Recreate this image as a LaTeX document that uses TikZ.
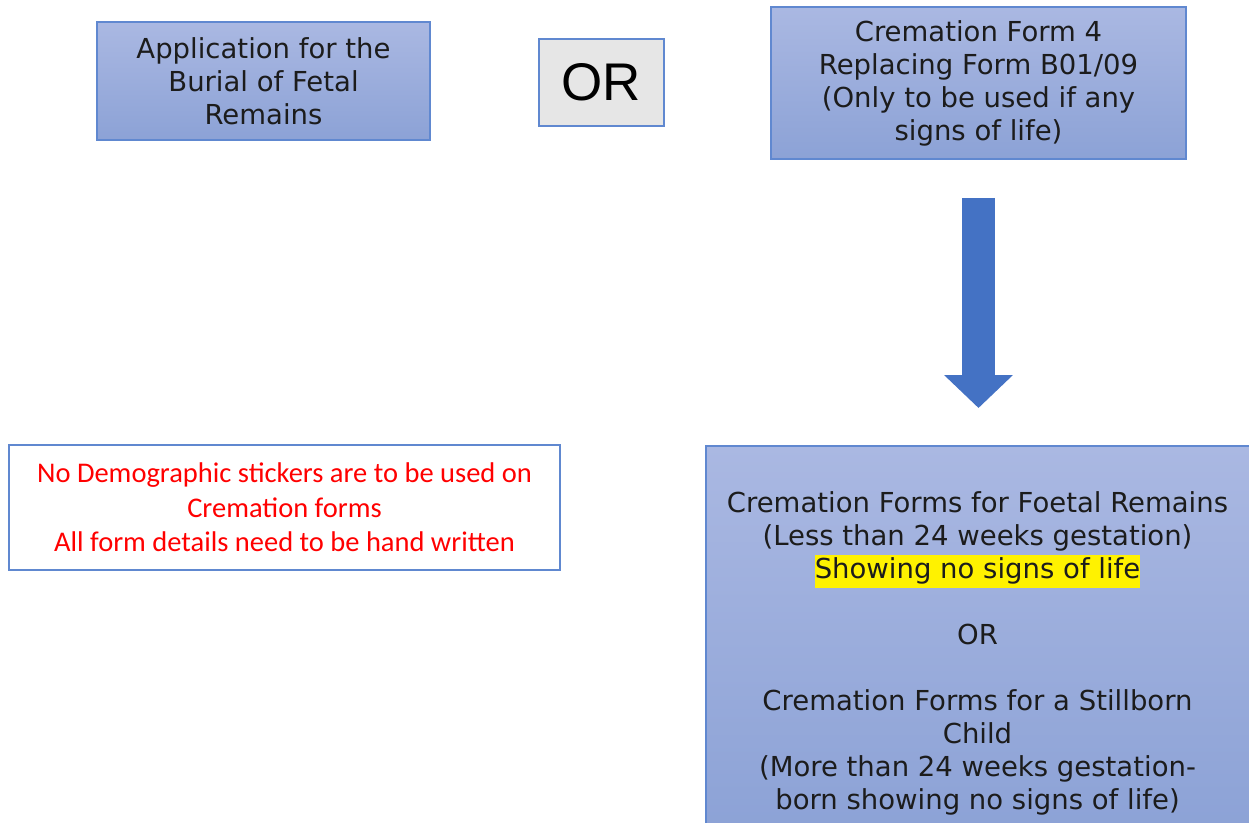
\documentclass[tikz,border=0pt]{standalone}
\usepackage{fontspec}
\usepackage{tikz}
\usetikzlibrary{arrows.meta}
\setmainfont{DejaVu Sans}
\newfontfamily\notefont{Carlito}
\newfontfamily\orfont{Liberation Sans}
\definecolor{boxtop}{RGB}{170,184,226}
\definecolor{boxbot}{RGB}{140,162,214}
\definecolor{boxline}{RGB}{96,136,208}
\definecolor{arrowblue}{RGB}{68,114,196}
\definecolor{orgray}{RGB}{230,230,230}
\definecolor{ink}{RGB}{28,28,28}
\setlength{\fboxsep}{0pt}
\begin{document}
\begin{tikzpicture}[x=1pt, y=-1pt,
	formbox/.style={draw=boxline, line width=1.5pt, top color=boxtop, bottom color=boxbot,
		align=center, inner sep=0pt, text=ink, font=\fontsize{27.5}{33}\selectfont}]
				            \useasboundingbox (0,0) rectangle (1249,822);
				            \clip (0,0) rectangle (1249,822);

				            \node[formbox, minimum width=333pt, minimum height=118pt] (burial) at (263.5,81)
				            {Application for the\\Burial of Fetal\\Remains};

				            \node[draw=boxline, line width=1.5pt, fill=orgray, inner sep=0pt,
				            minimum width=125pt, minimum height=87pt, font=\orfont\fontsize{53}{60}\selectfont] (or) at (601.5,82.5)
				            {OR};

				            \node[formbox, minimum width=415pt, minimum height=152pt] (form) at (978.5,83)
				            {Cremation Form 4\\Replacing Form B01/09\\(Only to be used if any\\signs of life)};

				            \node[draw=boxline, line width=1.5pt, fill=white, align=center, inner sep=0pt,
				            minimum width=551pt, minimum height=125pt, text=red,
				            font=\notefont\fontsize{28.5}{34.5}\selectfont] (note) at (284.5,507.5)
				            {No Demographic stickers are to be used on\\Cremation forms\\All form details need to be hand written};

				            \node[formbox, anchor=north west, minimum width=547pt, minimum height=385pt] (remains) at (705,445) {};
				            \node[align=center, inner sep=0pt, text=ink, font=\fontsize{27.5}{33}\selectfont] (remainstext) at (977.5,653)
				            {Cremation Forms for Foetal Remains\\(Less than 24 weeks gestation)\\
				            \colorbox{yellow}{\strut Showing no signs of life}\\[33pt]
				            OR\\[33pt]
				            Cremation Forms for a Stillborn\\Child\\(More than 24 weeks gestation-\\born showing no signs of life)};

				            \draw[arrowblue, line width=33pt, -{Triangle[width=67pt,length=33pt]}]
				            ([yshift=-38pt]form.south) -- ([yshift=37pt]remains.north -| form.south);
			            \end{tikzpicture}
\end{document}
